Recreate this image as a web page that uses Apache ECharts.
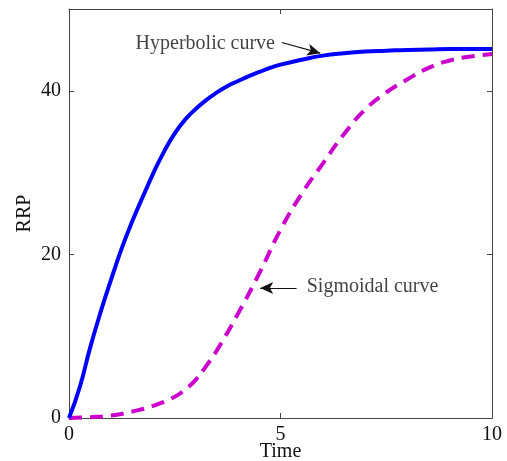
<!DOCTYPE html>
<html>
<head>
<meta charset="utf-8">
<script src="https://cdn.jsdelivr.net/npm/echarts@6/dist/echarts.min.js"></script>
<style>html,body{margin:0;padding:0;background:#fff}#c{width:507px;height:461px}</style>
</head>
<body>
<div id="c"></div>
<script>
const hypT = [0, 0.25, 0.5, 0.75, 1, 1.25, 1.5, 1.75, 2, 2.25, 2.5, 2.75, 3, 3.25, 3.5, 3.75, 4, 4.25, 4.5, 4.75, 5, 5.5, 6, 6.5, 7, 7.5, 8, 8.5, 9, 9.5, 10];
const hypY = [0, 3.7, 8.6, 13.0, 17.0, 20.8, 24.1, 27.1, 30.0, 32.6, 34.8, 36.5, 37.8, 38.9, 39.8, 40.6, 41.2, 41.8, 42.3, 42.8, 43.2, 43.8, 44.3, 44.6, 44.8, 44.9, 45.0, 45.05, 45.1, 45.1, 45.1];
const sigT = [0, 0.5, 1, 1.5, 2, 2.5, 2.75, 3, 3.25, 3.5, 4, 4.5, 5, 5.5, 6, 6.5, 7, 7.5, 8, 8.5, 9, 9.5, 10];
const sigY = [0, 0.1, 0.3, 0.8, 1.5, 2.6, 3.5, 4.7, 6.4, 8.3, 12.8, 17.7, 23.0, 27.4, 31.1, 34.7, 37.7, 39.8, 41.4, 42.8, 43.7, 44.2, 44.5];
const xTicks = [0, 5, 10];
const yTicks = [0, 20, 40];
const hypLabel = 'Hyperbolic curve';
const sigLabel = 'Sigmoidal curve';
const hypArrow = [[5.03, 45.9], [5.94, 44.6]];
const sigArrow = [[5.38, 15.9], [4.52, 15.9]];
const hypLabelPos = [4.87, 45.8];
const sigLabelPos = [5.62, 16.0];

const font = 'Liberation Serif';
const axisColor = '#444';
const txt = '#111';
const fs = 20;

const chart = echarts.init(document.getElementById('c'), null, {renderer: 'canvas'});
const baseX = {
  type: 'value', min: 0, max: 10, interval: 5,
  splitLine: {show: false},
  axisLine: {show: true, onZero: false, lineStyle: {color: axisColor, width: 1}},
  axisTick: {show: true, inside: true, length: 5, lineStyle: {color: axisColor}},
};
const baseY = {
  type: 'value', min: 0, max: 50, interval: 20,
  splitLine: {show: false},
  axisLine: {show: true, onZero: false, lineStyle: {color: axisColor, width: 1}},
  axisTick: {show: true, inside: true, length: 5, lineStyle: {color: axisColor}},
};
chart.setOption({
  animation: false,
  backgroundColor: '#fff',
  grid: {left: 69, right: 15, top: 9, bottom: 43, containLabel: false, outerBoundsMode: 'none'},
  xAxis: [
    Object.assign({}, baseX, {
      position: 'bottom', name: 'Time', nameLocation: 'middle', nameGap: 24, nameMoveOverlap: false,
      nameTextStyle: {fontFamily: font, fontSize: fs, color: txt},
      axisLabel: {fontFamily: font, fontSize: fs, color: txt, margin: 7,
        formatter: v => xTicks.includes(v) ? String(v) : ''}
    }),
    Object.assign({}, baseX, {position: 'top', axisLabel: {show: false}})
  ],
  yAxis: [
    Object.assign({}, baseY, {
      position: 'left', name: 'RRP', nameLocation: 'middle', nameGap: 34, nameMoveOverlap: false,
      nameTextStyle: {fontFamily: font, fontSize: fs, color: txt},
      axisLabel: {fontFamily: font, fontSize: fs, color: txt, margin: 8, showMaxLabel: false,
        formatter: v => yTicks.includes(v) ? String(v) : ''}
    }),
    Object.assign({}, baseY, {position: 'right', axisLabel: {show: false}})
  ],
  series: [
    {
      type: 'line', name: 'Sigmoidal', smooth: 0.5, showSymbol: false,
      data: sigT.map((t, i) => [t, sigY[i]]),
      lineStyle: {color: '#cc00cc', width: 4, type: [13, 8]},
      z: 2
    },
    {
      type: 'line', name: 'Hyperbolic', smooth: 0.5, showSymbol: false,
      data: hypT.map((t, i) => [t, hypY[i]]),
      lineStyle: {color: '#0000ff', width: 4},
      z: 3
    },
    {
      type: 'scatter', symbolSize: 0, silent: true,
      data: [
        {value: hypLabelPos, label: {show: true, position: 'left', distance: 0, formatter: hypLabel}},
        {value: sigLabelPos, label: {show: true, position: 'right', distance: 0, formatter: sigLabel}}
      ],
      label: {fontFamily: font, fontSize: fs, color: txt},
      markLine: {
        silent: true, symbol: ['none', 'arrow'], symbolSize: [9, 13],
        lineStyle: {color: '#111', width: 1.2, type: 'solid'},
        label: {show: false},
        data: [
          [{coord: hypArrow[0]}, {coord: hypArrow[1]}],
          [{coord: sigArrow[0]}, {coord: sigArrow[1]}]
        ]
      },
      z: 5
    }
  ]
});
</script>
</body>
</html>
